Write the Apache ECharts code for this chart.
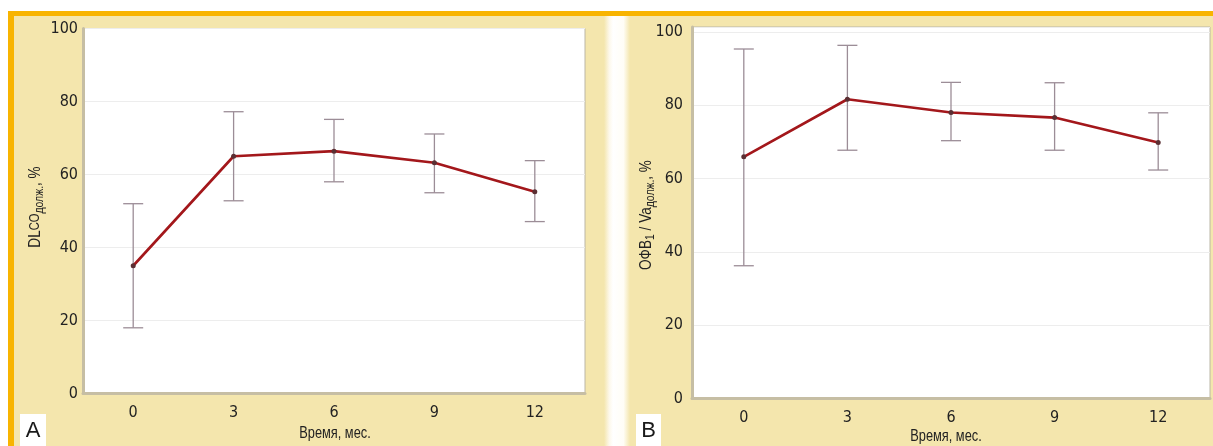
<!DOCTYPE html>
<html>
<head>
<meta charset="utf-8">
<script src="https://cdn.jsdelivr.net/npm/echarts@6/dist/echarts.min.js"></script>
<style>
html,body{margin:0;padding:0;background:#fff;}
#c{width:1213px;height:446px;}
</style>
</head>
<body>
<div id="c"></div>
<script>
// ---- data ----
const months = ['0', '3', '6', '9', '12'];
const yTicks = [0, 20, 40, 60, 80, 100];
// Panel A: DLCO (% predicted)
const dlcoMean = [35, 65, 66.4, 63.2, 55.3];
const dlcoLow  = [18, 52.8, 58, 55, 47.1];
const dlcoHigh = [52, 77.2, 75.1, 71.1, 63.8];
// Panel B: FEV1 / Va (% predicted)
const fevMean = [65.9, 81.6, 78, 76.6, 69.8];
const fevLow  = [36.2, 67.7, 70.3, 67.7, 62.3];
const fevHigh = [95.3, 96.3, 86.2, 86.1, 77.9];

const NARROW = '"Liberation Sans Narrow", "DejaVu Sans Condensed", "Liberation Sans", Arial, sans-serif';
const SANS = '"Liberation Sans", Arial, sans-serif';
const lineColor = '#a3171b';
const errColor = '#9c8d97';
const yellow = '#f4e6ad';
const SQ = 0.8; // horizontal squeeze to mimic a condensed face

function errorData(low, high) {
  return months.map((m, i) => [i, low[i], high[i]]);
}
function errorSeries(idx, low, high) {
  return {
    type: 'custom',
    xAxisIndex: idx, yAxisIndex: idx,
    z: 3,
    data: errorData(low, high),
    renderItem: function (params, api) {
      const lo = api.coord([api.value(0), api.value(1)]);
      const hi = api.coord([api.value(0), api.value(2)]);
      const hw = 10;
      const st = { stroke: errColor, lineWidth: 1.3 };
      return {
        type: 'group',
        children: [
          { type: 'line', shape: { x1: hi[0], y1: hi[1], x2: lo[0], y2: lo[1] }, style: st },
          { type: 'line', shape: { x1: hi[0] - hw, y1: hi[1], x2: hi[0] + hw, y2: hi[1] }, style: st },
          { type: 'line', shape: { x1: lo[0] - hw, y1: lo[1], x2: lo[0] + hw, y2: lo[1] }, style: st }
        ]
      };
    }
  };
}
function lineSeries(idx, vals) {
  return {
    type: 'line', xAxisIndex: idx, yAxisIndex: idx, z: 4,
    data: vals,
    symbol: 'circle', symbolSize: 5,
    itemStyle: { color: '#5b2f33' },
    lineStyle: { color: lineColor, width: 2.6 }
  };
}
function xAxis(idx, margin) {
  return {
    type: 'category', gridIndex: idx, data: months, boundaryGap: true,
    axisTick: { show: false },
    axisLine: { show: true, lineStyle: { color: '#c6bea4', width: 3 } },
    axisLabel: { color: '#222', fontFamily: NARROW, fontSize: 16, margin: margin }
  };
}
function yAxis(idx, max, margin) {
  return {
    type: 'value', gridIndex: idx, min: yTicks[0], max: max, interval: yTicks[1] - yTicks[0],
    axisLine: { show: true, lineStyle: { color: '#c6bea4', width: 3 } },
    axisTick: { show: false },
    splitLine: { show: true, lineStyle: { color: '#ededed', width: 1 } },
    axisLabel: { color: '#222', fontFamily: NARROW, fontSize: 16, margin: margin, showMaxLabel: max === 100 }
  };
}

const chart = echarts.init(document.getElementById('c'), null, { renderer: 'canvas' });
const richName = {
  a: { fontFamily: SANS, fontSize: 17, lineHeight: 22, color: '#222' },
  c: { fontFamily: SANS, fontSize: 14, lineHeight: 22, color: '#222' },
  s: { fontFamily: SANS, fontSize: 13, lineHeight: 10, verticalAlign: 'bottom', color: '#222' }
};

chart.setOption({
  backgroundColor: '#ffffff',
  animation: false,
  graphic: [
    { type: 'rect', z: -20, shape: { x: 8, y: 11, width: 1205, height: 435 }, style: { fill: '#f8b400' } },
    { type: 'rect', z: -19, shape: { x: 14, y: 16, width: 1199, height: 430 }, style: { fill: yellow } },
    { type: 'rect', z: -18, shape: { x: 604, y: 16, width: 26, height: 430 },
      style: { fill: new echarts.graphic.LinearGradient(0, 0, 1, 0, [
        { offset: 0, color: yellow }, { offset: 0.2, color: '#fdf8ea' }, { offset: 0.35, color: '#ffffff' },
        { offset: 0.75, color: '#fffdf6' }, { offset: 1, color: yellow }]) } },
    // panel letters
    { type: 'rect', z: 10, shape: { x: 20, y: 414, width: 26, height: 32 }, style: { fill: '#ffffff' } },
    { type: 'text', z: 11, x: 33, y: 431, style: { text: 'A', fontFamily: SANS, fontSize: 22, fill: '#1a1a1a', align: 'center', verticalAlign: 'middle' } },
    { type: 'rect', z: 10, shape: { x: 636, y: 414, width: 25, height: 32 }, style: { fill: '#ffffff' } },
    { type: 'text', z: 11, x: 648.5, y: 431, style: { text: 'B', fontFamily: SANS, fontSize: 22, fill: '#1a1a1a', align: 'center', verticalAlign: 'middle' } },
    // y axis names
    { type: 'text', z: 11, x: 35, y: 207, rotation: Math.PI / 2, scaleX: SQ,
      style: { text: '{a|DL}{c|CO}{s|долж.}{a|, %}', rich: richName, align: 'center', verticalAlign: 'middle', fill: '#222' } },
    { type: 'text', z: 11, x: 646, y: 215, rotation: Math.PI / 2, scaleX: SQ,
      style: { text: '{a|ОФВ}{s|1}{a| / Va}{s|долж.}{a|, %}', rich: richName, align: 'center', verticalAlign: 'middle', fill: '#222' } },
    // x axis names
    { type: 'text', z: 11, x: 335, y: 434, scaleX: SQ, style: { text: 'Время, мес.', fontFamily: SANS, fontSize: 16, fill: '#222', align: 'center', verticalAlign: 'middle' } },
    { type: 'text', z: 11, x: 946, y: 437, scaleX: SQ, style: { text: 'Время, мес.', fontFamily: SANS, fontSize: 16, fill: '#222', align: 'center', verticalAlign: 'middle' } }
  ],
  grid: [
    { left: 83, top: 28.5, width: 502, height: 365, show: true, backgroundColor: '#ffffff', borderColor: '#bbb6a6', borderWidth: 1 },
    { left: 692, top: 27, width: 518, height: 371.5, show: true, backgroundColor: '#ffffff', borderColor: '#bbb6a6', borderWidth: 1 }
  ],
  xAxis: [xAxis(0, 11), xAxis(1, 11)],
  yAxis: [yAxis(0, 100, 5), yAxis(1, 101.3, 9)],
  series: [
    errorSeries(0, dlcoLow, dlcoHigh),
    lineSeries(0, dlcoMean),
    errorSeries(1, fevLow, fevHigh),
    lineSeries(1, fevMean)
  ]
});
</script>
</body>
</html>
